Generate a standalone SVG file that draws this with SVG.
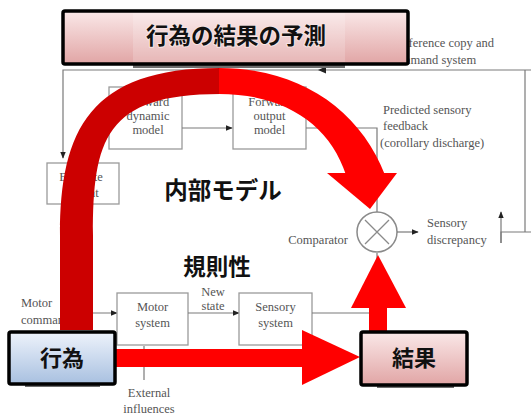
<svg xmlns="http://www.w3.org/2000/svg" width="531" height="416" viewBox="0 0 531 416">
<style>
.bg{fill:#555;font-family:"Liberation Serif","Times New Roman","DejaVu Serif",serif;font-size:12.5px}
.bgc{text-anchor:middle}
.ln{stroke:#7a7a7a;stroke-width:1.2;fill:none}
.bx{stroke:#9a9a9a;stroke-width:1.3;fill:#fff}
.jp{font-family:"Noto Sans CJK JP","Noto Sans CJK SC",sans-serif;font-weight:700;fill:#111;text-anchor:middle}
.glow{stroke:#fff;stroke-width:4;stroke-linejoin:round;paint-order:stroke}
.node{stroke:#000;stroke-width:3.5}
.shadow{fill:#6e6e6e}
</style>
<defs>
<marker id="ga" viewBox="0 0 10 10" refX="9" refY="5" markerWidth="7" markerHeight="7" orient="auto" markerUnits="userSpaceOnUse">
<path d="M0,1 L10,5 L0,9 z" fill="#222"/>
</marker>
<linearGradient id="pink" x1="0" y1="0" x2="0" y2="1">
<stop offset="0" stop-color="#fae8e8"/>
<stop offset="1" stop-color="#e1a5a5"/>
</linearGradient>
<linearGradient id="blue" x1="0" y1="0" x2="0" y2="1">
<stop offset="0" stop-color="#eef3fb"/>
<stop offset="1" stop-color="#a8c0e0"/>
</linearGradient>
</defs>
<rect width="531" height="416" fill="#fff"/>

<g id="background-figure">
<text class="bg" x="397" y="47">Efference copy and</text>
<text class="bg" x="389" y="64">command system</text>
<path class="ln" d="M531,70 L63,70 L63,158" marker-end="url(#ga)"/>
<path d="M318,70 L326,66.5 L326,73.5 z" fill="#222"/>
<path class="ln" d="M525,70 L525,232"/>
<path class="ln" d="M531,232 L501,232 L501,243"/>
<path class="ln" d="M501,243 L501,212" marker-end="url(#ga)"/>
<g id="fwd-dynamic"><rect class="bx" x="109" y="87" width="73" height="62"/>
<text class="bg bgc" x="148" y="106">Forward</text><text class="bg bgc" x="148" y="120">dynamic</text><text class="bg bgc" x="148" y="134">model</text></g>
<g id="fwd-output"><rect class="bx" x="233" y="87" width="73" height="62"/>
<text class="bg bgc" x="269.5" y="106">Forward</text><text class="bg bgc" x="269.5" y="120">output</text><text class="bg bgc" x="269.5" y="134">model</text></g>
<g id="estimate"><rect class="bx" x="47" y="163" width="72" height="41"/>
<text class="bg bgc" x="81" y="181">Estimate</text><text class="bg bgc" x="81" y="197">current</text></g>
<path class="ln" d="M182,128 L232,128" marker-end="url(#ga)"/>
<path class="ln" d="M306,128 L377,128 L377,212"/>
<text class="bg" x="383" y="114">Predicted sensory</text>
<text class="bg" x="383" y="130">feedback</text>
<text class="bg" x="380" y="147">(corollary discharge)</text>
<g id="comparator"><circle cx="377" cy="232" r="20" fill="#fff" stroke="#8a8a8a" stroke-width="1.5"/>
<path d="M365,220 L389,244 M389,220 L365,244" stroke="#8a8a8a" stroke-width="1.3"/></g>
<text class="bg" x="348" y="244" text-anchor="end">Comparator</text>
<path class="ln" d="M397,232 L418,232" marker-end="url(#ga)"/>
<text class="bg" x="427" y="227">Sensory</text>
<text class="bg" x="427" y="244">discrepancy</text>
<text class="bg" x="21" y="307">Motor</text>
<text class="bg" x="21" y="324">command</text>
<path class="ln" d="M60,313 L117,313" marker-end="url(#ga)"/>
<g id="motor-system"><rect class="bx" x="117" y="293" width="71" height="52"/>
<text class="bg bgc" x="152.5" y="311">Motor</text><text class="bg bgc" x="152.5" y="327">system</text></g>
<text class="bg bgc" x="213" y="296">New</text>
<text class="bg bgc" x="213" y="310">state</text>
<path class="ln" d="M188,313 L239,313" marker-end="url(#ga)"/>
<g id="sensory-system"><rect class="bx" x="239" y="293" width="73" height="52"/>
<text class="bg bgc" x="275.5" y="311">Sensory</text><text class="bg bgc" x="275.5" y="327">system</text></g>
<path class="ln" d="M312,313 L377,313 L377,253"/>
<path class="ln" d="M144,380 L144,346"/>
<text class="bg bgc" x="149" y="397">External</text>
<text class="bg bgc" x="149" y="413">influences</text>
</g>

<g id="connectors">
<path d="M60,330 L60,235 C60,130 90,68 220,68 L220,94 C105,94 93,140 93,235 L93,330 Z" fill="#cc0000"/>
<path d="M219,68 C300,68 360,110 385,175 L346,175 C330,125 285,94 219,94 Z" fill="#ff0000"/>
<path d="M327,173 L397,173 L370,209 z" fill="#ff0000"/>
<rect x="115" y="349" width="189" height="18" fill="#ff0000"/>
<path d="M302,330 L360,357 L302,385 z" fill="#ff0000"/>
<rect x="369" y="306" width="18" height="27" fill="#ff0000"/>
<path d="M351,308 L406,308 L378,255 z" fill="#ff0000"/>
</g>

<g id="title">
<rect class="shadow" x="133" y="64" width="212" height="4"/>
<rect class="node" x="63" y="11" width="345" height="53" rx="2" fill="url(#pink)"/>
<rect x="133" y="13" width="212" height="49" fill="#fff" opacity="0.18"/>
<text class="jp glow" x="236" y="44" font-size="22.5" style="stroke-width:2;stroke:#f6e4e4">行為の結果の予測</text>
</g>

<g id="action">
<rect class="shadow" x="25" y="384" width="75" height="3"/>
<rect class="node" x="9" y="332" width="106" height="52" rx="2" fill="url(#blue)"/>
<text class="jp" x="62" y="366" font-size="22">行為</text>
</g>

<g id="result">
<rect class="shadow" x="377" y="385" width="77" height="3"/>
<rect class="node" x="361" y="332" width="106" height="53" rx="2" fill="url(#pink)"/>
<text class="jp" x="414" y="366" font-size="22">結果</text>
</g>

<g id="label-internal">
<text class="jp glow" x="223" y="199" font-size="23.5">内部モデル</text>
</g>
<g id="label-rule">
<text class="jp glow" x="217" y="275" font-size="22.5">規則性</text>
</g>
</svg>
